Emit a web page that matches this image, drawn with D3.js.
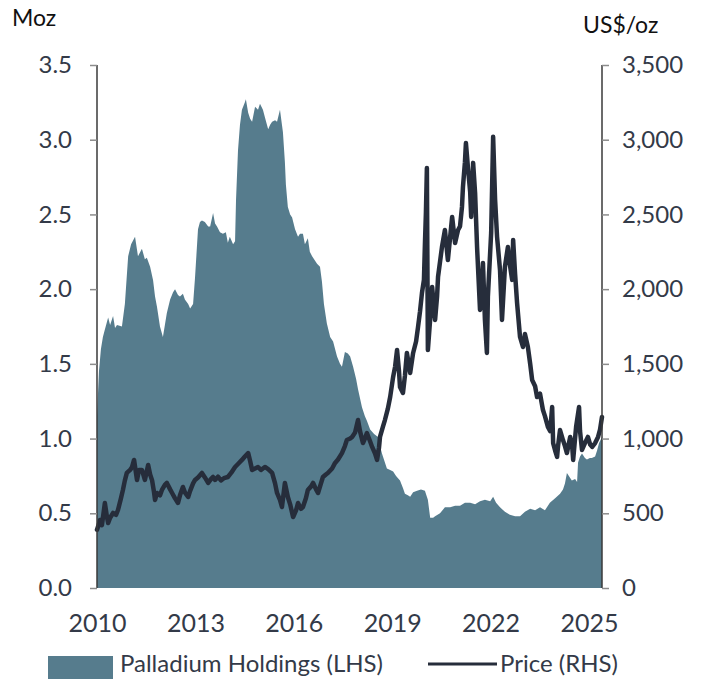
<!DOCTYPE html>
<html><head><meta charset="utf-8">
<script src="https://cdn.jsdelivr.net/npm/d3@7"></script>
<style>
html,body{margin:0;padding:0;background:#fff;}
text{font-family:Lato,"Open Sans",sans-serif;}
</style></head>
<body><svg id="chart" width="708" height="679"></svg>
<script>
// ---- data ----
const holdingsYear = [2010.00,2010.06,2010.12,2010.18,2010.24,2010.34,2010.40,2010.49,2010.55,2010.61,2010.76,2010.85,2010.95,2011.04,2011.16,2011.25,2011.37,2011.46,2011.52,2011.62,2011.71,2011.77,2011.83,2011.92,2012.01,2012.07,2012.13,2012.23,2012.32,2012.38,2012.47,2012.53,2012.62,2012.68,2012.78,2012.84,2012.93,2012.99,2013.08,2013.14,2013.20,2013.29,2013.39,2013.45,2013.54,2013.60,2013.66,2013.75,2013.84,2013.93,2013.99,2014.05,2014.15,2014.21,2014.24,2014.30,2014.36,2014.42,2014.51,2014.54,2014.61,2014.67,2014.73,2014.82,2014.91,2014.97,2015.06,2015.12,2015.22,2015.28,2015.34,2015.43,2015.49,2015.58,2015.64,2015.67,2015.73,2015.76,2015.82,2015.89,2015.95,2016.04,2016.13,2016.19,2016.28,2016.34,2016.43,2016.49,2016.56,2016.65,2016.71,2016.80,2016.86,2016.92,2017.01,2017.11,2017.20,2017.32,2017.41,2017.47,2017.56,2017.65,2017.72,2017.81,2017.90,2017.96,2018.08,2018.17,2018.23,2018.33,2018.45,2018.57,2018.63,2018.69,2018.78,2018.84,2018.94,2019.03,2019.12,2019.24,2019.33,2019.39,2019.48,2019.55,2019.64,2019.76,2019.88,2020.00,2020.09,2020.16,2020.25,2020.31,2020.46,2020.61,2020.77,2020.92,2021.07,2021.22,2021.38,2021.53,2021.68,2021.83,2021.99,2022.08,2022.17,2022.29,2022.44,2022.59,2022.75,2022.90,2023.05,2023.21,2023.36,2023.51,2023.66,2023.81,2023.97,2024.12,2024.21,2024.27,2024.33,2024.42,2024.48,2024.58,2024.64,2024.67,2024.73,2024.79,2024.88,2024.94,2025.03,2025.09,2025.19,2025.25,2025.31,2025.40];
const holdingsMoz = [1.15,1.45,1.60,1.68,1.73,1.81,1.76,1.82,1.74,1.76,1.75,1.90,2.22,2.30,2.35,2.22,2.27,2.20,2.21,2.15,2.06,1.95,1.88,1.75,1.68,1.76,1.84,1.93,1.98,2.00,1.96,1.95,1.97,1.93,1.90,1.87,1.90,2.08,2.40,2.45,2.46,2.45,2.42,2.42,2.51,2.44,2.42,2.38,2.37,2.38,2.31,2.35,2.30,2.32,2.60,2.93,3.10,3.20,3.25,3.27,3.18,3.14,3.12,3.22,3.20,3.24,3.20,3.15,3.07,3.10,3.12,3.13,3.12,3.20,3.10,3.05,2.85,2.70,2.55,2.50,2.48,2.40,2.35,2.37,2.37,2.30,2.34,2.25,2.22,2.19,2.17,2.15,2.05,1.90,1.77,1.68,1.65,1.55,1.50,1.48,1.58,1.57,1.55,1.48,1.40,1.33,1.21,1.15,1.12,1.06,1.03,1.01,0.95,0.90,0.84,0.80,0.79,0.78,0.75,0.72,0.67,0.63,0.62,0.61,0.64,0.65,0.66,0.65,0.59,0.47,0.47,0.48,0.50,0.54,0.54,0.55,0.55,0.57,0.57,0.56,0.58,0.59,0.58,0.61,0.57,0.54,0.51,0.49,0.48,0.48,0.51,0.53,0.52,0.54,0.52,0.57,0.60,0.63,0.66,0.70,0.77,0.74,0.72,0.73,0.71,0.84,0.88,0.90,0.87,0.86,0.87,0.87,0.88,0.92,0.97,1.01];

const priceYear = [2010.00,2010.06,2010.09,2010.15,2010.24,2010.30,2010.34,2010.40,2010.49,2010.58,2010.64,2010.73,2010.79,2010.85,2010.91,2011.01,2011.07,2011.13,2011.22,2011.28,2011.37,2011.46,2011.56,2011.62,2011.68,2011.74,2011.77,2011.83,2011.92,2011.98,2012.07,2012.13,2012.23,2012.29,2012.38,2012.47,2012.53,2012.62,2012.68,2012.78,2012.84,2012.93,2012.99,2013.08,2013.20,2013.29,2013.39,2013.48,2013.54,2013.60,2013.69,2013.78,2013.87,2013.99,2014.09,2014.21,2014.30,2014.42,2014.51,2014.61,2014.67,2014.73,2014.82,2014.91,2015.00,2015.12,2015.22,2015.34,2015.43,2015.49,2015.58,2015.64,2015.73,2015.82,2015.89,2015.98,2016.07,2016.13,2016.22,2016.28,2016.37,2016.43,2016.53,2016.59,2016.68,2016.74,2016.83,2016.89,2016.98,2017.04,2017.17,2017.26,2017.35,2017.47,2017.56,2017.62,2017.72,2017.78,2017.87,2017.96,2018.02,2018.11,2018.17,2018.23,2018.33,2018.39,2018.48,2018.54,2018.60,2018.63,2018.72,2018.78,2018.87,2018.94,2019.03,2019.09,2019.15,2019.21,2019.24,2019.33,2019.39,2019.45,2019.55,2019.64,2019.73,2019.79,2019.85,2019.91,2019.97,2020.00,2020.03,2020.06,2020.09,2020.16,2020.22,2020.31,2020.37,2020.40,2020.52,2020.61,2020.70,2020.77,2020.83,2020.92,2021.01,2021.07,2021.13,2021.16,2021.22,2021.25,2021.31,2021.38,2021.41,2021.47,2021.53,2021.59,2021.68,2021.74,2021.77,2021.83,2021.89,2021.92,2022.02,2022.08,2022.14,2022.20,2022.29,2022.35,2022.44,2022.53,2022.60,2022.66,2022.69,2022.75,2022.81,2022.90,2022.99,2023.05,2023.14,2023.21,2023.27,2023.36,2023.42,2023.51,2023.60,2023.66,2023.75,2023.82,2023.88,2023.91,2023.97,2024.03,2024.06,2024.12,2024.21,2024.27,2024.33,2024.43,2024.49,2024.52,2024.61,2024.70,2024.73,2024.79,2024.88,2024.97,2025.04,2025.10,2025.19,2025.28,2025.34,2025.40];
const priceUsd = [390,430,455,420,569,480,435,470,502,490,522,600,656,720,770,790,810,857,723,790,790,723,823,760,720,640,589,636,620,656,690,703,660,636,600,569,620,676,640,609,650,700,723,740,770,740,703,730,743,723,745,720,735,743,770,810,830,857,880,903,850,790,800,810,790,810,795,770,700,636,590,542,703,609,560,475,520,569,530,542,600,656,680,703,660,636,700,743,760,770,800,837,860,903,950,990,1000,1011,1040,1124,1050,970,1000,1037,980,944,900,857,940,1011,1080,1124,1200,1278,1412,1480,1593,1450,1345,1305,1420,1573,1439,1573,1650,1747,1850,1975,2062,2300,2510,2811,1593,1800,2015,1794,1950,2082,2282,2396,2195,2350,2483,2309,2396,2420,2550,2684,2850,2978,2818,2650,2483,2845,2644,2282,1861,2050,2175,1794,1573,1948,2376,3020,2600,2350,2128,1794,2149,2282,2150,2062,2329,2100,1908,1680,1613,1700,1613,1500,1392,1350,1278,1300,1191,1150,1078,1050,1211,970,920,877,950,1057,990,950,903,1011,950,857,1078,1211,1050,924,970,1011,960,944,970,1011,1060,1145];

const xTickYears = [2010,2013,2016,2019,2022,2025];
const leftTicks = [0,0.5,1.0,1.5,2.0,2.5,3.0,3.5];
const rightTicks = [0,500,1000,1500,2000,2500,3000,3500];
const legendLabels = ["Palladium Holdings (LHS)","Price (RHS)"];
const axisTitles = ["Moz","US$/oz"];

// ---- layout ----
const svg = d3.select("#chart");
const plotL = 97, plotR = 602, plotT = 65, plotB = 588;
const areaColor = "#567c8d", lineColor = "#262d3b", textColor = "#333a48";

const x = d3.scaleLinear().domain([2010, 2025.4]).range([plotL, plotR]);
const yL = d3.scaleLinear().domain([0, 3.5]).range([plotB, plotT]);
const yR = d3.scaleLinear().domain([0, 3500]).range([plotB, plotT]);

const n1 = Math.min(holdingsYear.length, holdingsMoz.length);
const n2 = Math.min(priceYear.length, priceUsd.length);
const holdings = holdingsYear.slice(0,n1).map((t,i)=>({t, v:holdingsMoz[i]}));
const price = priceYear.slice(0,n2).map((t,i)=>({t, v:priceUsd[i]}));

svg.append("path").datum(holdings)
  .attr("fill", areaColor)
  .attr("d", d3.area().x(d=>x(d.t)).y0(yL(0)).y1(d=>yL(d.v)));

svg.append("path").datum(price)
  .attr("fill","none").attr("stroke", lineColor).attr("stroke-width",4.5)
  .attr("stroke-linejoin","round").attr("stroke-linecap","round")
  .attr("d", d3.line().x(d=>x(d.t)).y(d=>yR(d.v)));

// left axis
const gL = svg.append("g").attr("transform",`translate(${plotL},0)`)
  .call(d3.axisLeft(yL).tickValues(leftTicks).tickFormat(d3.format(".1f")).tickSize(7).tickPadding(18));
// right axis
const gR = svg.append("g").attr("transform",`translate(${plotR},0)`)
  .call(d3.axisRight(yR).tickValues(rightTicks).tickFormat(d3.format(",")).tickSize(7).tickPadding(13));
[gL,gR].forEach(g=>{
  g.select(".domain").attr("stroke","#3a3a3a").attr("stroke-width",1.5).attr("d",`M0,${plotT}V${plotB}`);
  g.selectAll(".tick line").attr("stroke","#8c8c8c").attr("stroke-width",1.5);
  g.selectAll(".tick text").attr("fill",textColor).style("font-size","24px").style("font-family","Lato");
});

// x axis labels (no line)
const gX = svg.append("g").attr("transform",`translate(0,${plotB})`)
  .call(d3.axisBottom(x).tickValues(xTickYears).tickFormat(d3.format("d")).tickSize(0).tickPadding(26));
gX.select(".domain").remove();
gX.selectAll(".tick text").attr("fill",textColor).style("font-size","25px").style("font-family","Lato");

// axis titles
svg.append("text").attr("x",12).attr("y",26).text(axisTitles[0])
  .attr("fill","#111").style("font-size","23px");
svg.append("text").attr("x",583).attr("y",33).text(axisTitles[1])
  .attr("fill","#111").style("font-size","23px");

// legend
svg.append("rect").attr("x",48).attr("y",656).attr("width",65).attr("height",23).attr("fill",areaColor);
svg.append("text").attr("x",120).attr("y",672).text(legendLabels[0])
  .attr("fill",textColor).style("font-size","24px");
svg.append("line").attr("x1",428).attr("x2",497).attr("y1",664).attr("y2",664)
  .attr("stroke",lineColor).attr("stroke-width",3);
svg.append("text").attr("x",500).attr("y",672).text(legendLabels[1])
  .attr("fill",textColor).style("font-size","24px");
</script></body></html>
